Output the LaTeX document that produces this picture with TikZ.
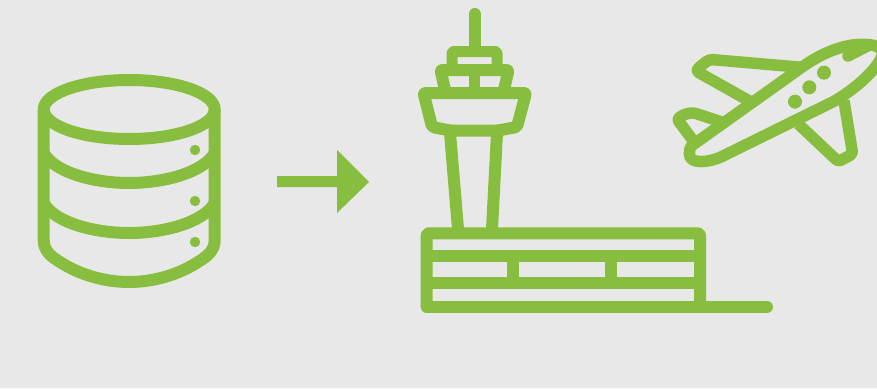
\documentclass[tikz,border=0pt]{standalone}
\definecolor{icongreen}{HTML}{88BE3F}
\definecolor{bggrey}{HTML}{E8E8E8}
\tikzset{
  icon/.style={draw=icongreen,line width=12pt,line join=round,line cap=butt},
  thinicon/.style={draw=icongreen,line width=11.5pt,line join=round,line cap=butt},
  dotmark/.style={fill=icongreen,draw=none},
}
\begin{document}
\begin{tikzpicture}[x=1pt,y=-1pt]
\useasboundingbox (0,0) rectangle (877,388);
\clip (0,0) rectangle (877,388);
\fill[bggrey] (0,0) rectangle (877,388);

% database
\draw[icon] (129.2,109.5) ellipse [x radius=85.5,y radius=29.5];
\draw[icon] (43.7,109.5) -- (43.7,240) .. controls (43.7,250) and (50,256) .. (60,262)
  .. controls (80,275) and (105,282) .. (129.2,282)
  .. controls (153,282) and (178,275) .. (198,262)
  .. controls (208,256) and (214.7,250) .. (214.7,240) -- (214.7,109.5);
\draw[icon] (43.7,153) .. controls (55,173) and (95,183) .. (129.2,183) .. controls (163,183) and (203,173) .. (214.7,153);
\draw[icon] (43.7,203) .. controls (55,223) and (95,233) .. (129.2,233) .. controls (163,233) and (203,223) .. (214.7,203);
\fill[dotmark] (195,150) circle (5.2);
\fill[dotmark] (195,201) circle (5.2);
\fill[dotmark] (195,242) circle (5.2);

% arrow
\fill[icongreen] (277,176) -- (337,176) -- (337,150) -- (369,182) -- (337,213) -- (337,187) -- (277,187) -- cycle;

% tower
\draw[icon,line cap=round] (474.5,14) -- (474.5,50);
\draw[icon,line width=11pt,rounded corners=2pt] (452,66) -- (452,51.5) -- (497,51.5) -- (497,66);
\draw[icon,rounded corners=2pt] (445.5,92) -- (440.5,70) -- (508.5,70) -- (503.5,92);
\draw[icon,line width=11pt] (474.5,70) -- (474.5,90);
\draw[icon,rounded corners=2pt] (423.5,93) -- (526,93) -- (517,127) -- (498,130.5) -- (450,130.5) -- (432,127) -- cycle;
\draw[icon] (450,133) -- (458,229);
\draw[icon] (497,133) -- (492,229);

% building
\draw[icon,rounded corners=2pt] (426.7,306.8) -- (426.7,233.3) -- (700,233.3) -- (700,306.8);
\draw[icon,line cap=round] (426.7,306.8) -- (767,306.8);
\draw[icon] (426.7,255.6) -- (700,255.6);
\draw[icon] (426.7,283.2) -- (700,283.2);
\draw[icon] (512.7,255.6) -- (512.7,283.2);
\draw[icon] (610.5,255.6) -- (610.5,283.2);

% plane
\begin{scope}[shift={(660,30)},x=0.3333pt,y=-0.3333pt]
\draw[thinicon] (98,345) -- (425,112)
  .. controls (495,62) and (560,42) .. (610,43)
  .. controls (650,43) and (678,55) .. (663,85)
  .. controls (638,135) and (565,190) .. (520,215)
  -- (185,380)
  .. controls (150,397) and (88,405) .. (88,372)
  .. controls (87,362) and (90,351) .. (98,345) -- cycle;
\draw[thinicon,line cap=round] (564,78) -- (628,45);
\fill[dotmark] (405,215) circle [radius=21];
\fill[dotmark] (448,172) circle [radius=21];
\fill[dotmark] (492,128) circle [radius=21];
\draw[thinicon,rounded corners=4pt] (425,112) -- (147,88) -- (106,122) -- (270,214);
\draw[thinicon,rounded corners=3pt] (185,276) -- (100,248) -- (75,252) -- (51,267) -- (100,333);
\draw[thinicon,rounded corners=3pt] (415,282) -- (535,395) -- (578,372) -- (552,212);
\end{scope}
\end{tikzpicture}
\end{document}
